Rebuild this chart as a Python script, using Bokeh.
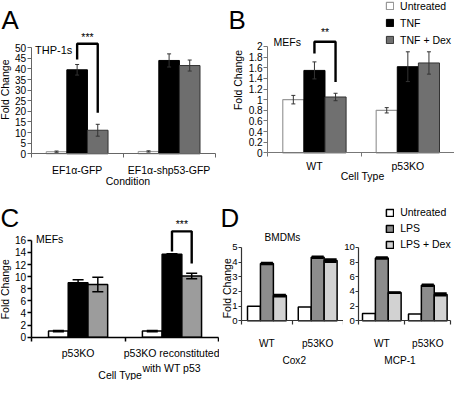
import math
from bokeh.plotting import figure
from bokeh.models import (ColumnDataSource, Range1d, FixedTicker, Whisker, TeeHead,
                          Label, Legend, LegendItem)
from bokeh.layouts import row, column
from bokeh.embed import file_html
from bokeh.resources import INLINE

# ---------------- data ----------------
A_groups = ["EF1α-GFP", "EF1α-shp53-GFP"]
A_untreated = [1.0, 1.1]
A_untreated_err = [0.3, 0.3]
A_tnf = [39.6, 44.0]
A_tnf_err = [2.5, 3.1]
A_dex = [11.1, 41.6]
A_dex_err = [2.8, 2.6]
A_yticks = [0, 5, 10, 15, 20, 25, 30, 35, 40, 45, 50]
A_ylabels = ["0", "5", "10", "15", "20", "25", "30", "35", "40", "45", "50"]
A_bracket = [51.9, 44.4, 19.3]   # top, left end, right end
A_stars = "***"
A_stars_y = 55.0

B_groups = ["WT", "p53KO"]
B_untreated = [1.0, 0.8]
B_untreated_err = [0.08, 0.05]
B_tnf = [1.55, 1.62]
B_tnf_err = [0.16, 0.28]
B_dex = [1.05, 1.69]
B_dex_err = [0.07, 0.21]
B_yticks = [0, 0.2, 0.4, 0.6, 0.8, 1, 1.2, 1.4, 1.6, 1.8, 2]
B_ylabels = ["0", "0.2", "0.4", "0.6", "0.8", "1", "1.2", "1.4", "1.6", "1.8", "2"]
B_bracket = [2.09, 1.87, 1.33]
B_stars = "**"
B_stars_y = 2.27
B_legend = ["Untreated", "TNF", "TNF + Dex"]

C_groups = ["p53KO", "p53KO reconstituted\nwith WT p53"]
C_untreated = [1.0, 1.0]
C_untreated_err = [0.12, 0.12]
C_tnf = [9.0, 13.7]
C_tnf_err = [0.5, 0.08]
C_dex = [8.7, 10.1]
C_dex_err = [1.2, 0.45]
C_yticks = [0, 2, 4, 6, 8, 10, 12, 14, 16]
C_ylabels = ["0", "2", "4", "6", "8", "10", "12", "14", "16"]
C_bracket = [17.5, 14.15, 12.2]
C_stars = "***"
C_stars_y = 18.65

D_groups = ["WT", "p53KO"]
D_cox2_untreated = [1.0, 0.95]
D_cox2_lps = [3.9, 4.33]
D_cox2_lps_err = [0.05, 0.05]
D_cox2_dex = [1.72, 4.1]
D_cox2_dex_err = [0.06, 0.1]
D_mcp1_untreated = [1.0, 0.95]
D_mcp1_lps = [8.55, 4.85]
D_mcp1_lps_err = [0.1, 0.1]
D_mcp1_dex = [3.85, 3.6]
D_mcp1_dex_err = [0.06, 0.15]
D1_yticks = [0, 1, 2, 3, 4, 5]
D1_ylabels = ["0", "1", "2", "3", "4", "5"]
D2_yticks = [0, 2, 4, 6, 8, 10]
D2_ylabels = ["0", "2", "4", "6", "8", "10"]
D_legend = ["Untreated", "LPS", "LPS + Dex"]

# ---------------- layout helpers ----------------
S = 0.958
FONT = "Liberation Sans"


def r(v):
    return int(round(v * S))


def fs(v):
    return f"{v * S:.1f}px"


# figure boxes and axis positions (reference pixels)
GA = dict(x0=0, y0=0, x1=237, y1=200, L=32, R=224, B=160, T=49.3, top_val=50)
GB = dict(x0=237, y0=0, x1=474, y1=200, L=279, R=474, B=159, T=48, top_val=2)
GC = dict(x0=0, y0=200, x1=229, y1=397, L=32, R=228, B=351, T=250, top_val=16)
GD1 = dict(x0=229, y0=200, x1=358, y1=397, L=252, R=358, B=334, T=257.3, top_val=5)
GD2 = dict(x0=358, y0=200, x1=474, y1=397, L=374, R=470, B=334, T=257.3, top_val=10)


def make_fig(g, n):
    W = r(g['x1']) - r(g['x0'])
    H = r(g['y1']) - r(g['y0'])
    Ls = S * (g['L'] - g['x0'])
    Rs = S * (g['R'] - g['x0'])
    Bs = S * (g['B'] - g['y0'])
    Ts = S * (g['T'] - g['y0'])
    kx = n / (Rs - Ls)
    ky = g['top_val'] / (Bs - Ts)
    p = figure(width=W, height=H, output_backend="svg", toolbar_location=None, title=None,
               x_range=Range1d(-Ls * kx, n + (W - Rs) * kx),
               y_range=Range1d(-(H - Bs) * ky, g['top_val'] + Ts * ky),
               min_border=0, min_border_left=0, min_border_right=0,
               min_border_top=0, min_border_bottom=0)
    p.grid.visible = False
    p.outline_line_color = None
    p.background_fill_color = "white"
    p.border_fill_color = "white"
    p._H = H
    return p


def style_axes(p, groups, yticks, ylabels, y_bound, col, lw, xstand, tick_fs=10.5):
    n = len(groups)
    xa = p.xaxis[0]
    xa.fixed_location = 0
    xa.bounds = (0, n)
    xa.ticker = FixedTicker(ticks=[i + 0.5 for i in range(n)], minor_ticks=list(range(n + 1)))
    xa.major_label_overrides = {i + 0.5: gname for i, gname in enumerate(groups)}
    xa.major_tick_out = 0
    xa.major_tick_in = 0
    xa.minor_tick_out = r(4)
    xa.minor_tick_in = 0
    xa.axis_line_color = col
    xa.axis_line_width = lw
    xa.minor_tick_line_color = col
    xa.minor_tick_line_width = lw
    xa.major_label_standoff = xstand
    xa.major_label_text_font = FONT
    xa.major_label_text_font_size = fs(tick_fs + 0.5)
    xa.major_label_text_color = "black"

    ya = p.yaxis[0]
    ya.fixed_location = 0
    ya.ticker = FixedTicker(ticks=yticks)
    ya.major_label_overrides = {t: lab for t, lab in zip(yticks, ylabels)}
    ya.bounds = (0, y_bound)
    ya.major_tick_out = r(4)
    ya.major_tick_in = 0
    ya.minor_tick_out = 0
    ya.minor_tick_in = 0
    ya.axis_line_color = col
    ya.axis_line_width = lw
    ya.major_tick_line_color = col
    ya.major_tick_line_width = lw
    ya.major_label_standoff = 1
    ya.major_label_text_font = FONT
    ya.major_label_text_font_size = fs(tick_fs)
    ya.major_label_text_color = "black"


def bars(p, n, series, bw, wcol, wlw, head):
    rends = []
    for k, (vals, errs, fill, line, lw) in enumerate(series):
        off = (k - 1) * bw
        xs = [i + 0.5 + off for i in range(n)]
        if errs is None:
            errs = [0] * n
        src = ColumnDataSource(dict(x=xs, top=vals,
                                    lo=[v - e for v, e in zip(vals, errs)],
                                    hi=[v + e for v, e in zip(vals, errs)]))
        rr = p.vbar(x="x", top="top", bottom=0, width=bw, source=src,
                    fill_color=fill, line_color=line, line_width=lw)
        if any(e > 0 for e in errs):
            w = Whisker(source=src, base="x", upper="hi", lower="lo", level="annotation",
                        line_color=wcol, line_width=wlw,
                        upper_head=TeeHead(size=head, line_color=wcol, line_width=wlw),
                        lower_head=TeeHead(size=head, line_color=wcol, line_width=wlw))
            p.add_layout(w)
        rends.append(rr)
    return rends


def bracket(p, gi, bw, spec, stars, star_y):
    top, lend, rend = spec
    xl = gi + 0.5
    xr = gi + 0.5 + bw
    p.line(x=[xl, xl, xr, xr], y=[lend, top, top, rend], line_color="black", line_width=2.4)
    p.add_layout(Label(x=(xl + xr) / 2, y=star_y, text=stars, text_align="center",
                       text_baseline="middle", text_font=FONT, text_font_size=fs(11),
                       text_color="black"))


def slabel(p, g, text, X, Y, size, align="left", baseline="middle", angle=0.0):
    p.add_layout(Label(x=S * (X - g['x0']), y=p._H - S * (Y - g['y0']),
                       x_units="screen", y_units="screen",
                       text=text, text_font=FONT, text_font_size=fs(size), text_align=align,
                       text_baseline=baseline, angle=angle, text_color="black"))


def legend(p, g, labels, rends, left_X, row1_Y, pitch, size):
    item_h = 12
    sp = r(pitch) - item_h
    h = 3 * item_h + 2 * sp
    top = S * (row1_Y - g['y0']) - item_h / 2
    vx = S * (left_X - g['x0'])
    vy = p._H - (top + h)
    lg = Legend(items=[LegendItem(label=lab, renderers=[rr]) for lab, rr in zip(labels, rends)],
                location=(vx, vy), orientation="vertical", padding=0, margin=0,
                spacing=sp, glyph_width=r(9), glyph_height=r(9), label_height=item_h,
                label_standoff=r(6), border_line_alpha=0, background_fill_alpha=0,
                label_text_font=FONT, label_text_font_size=fs(size),
                label_text_color="black")
    p.add_layout(lg)


# ---------------- panel A ----------------
pA = make_fig(GA, len(A_groups))
bwA = 0.224
style_axes(pA, A_groups, A_yticks, A_ylabels, 50, "#666666", 1, 6)
bars(pA, len(A_groups), [
    (A_untreated, A_untreated_err, "#f6f6f6", "#9a9a9a", 1),
    (A_tnf, A_tnf_err, "black", "black", 1),
    (A_dex, A_dex_err, "#6e6e6e", "#333333", 1),
], bwA, "#333333", 1, r(4))
bracket(pA, 0, bwA, A_bracket, A_stars, A_stars_y)
slabel(pA, GA, "A", 1, 20, 27, baseline="alphabetic")
slabel(pA, GA, "THP-1s", 36, 52, 11.5)
slabel(pA, GA, "Fold Change", 5, 93, 11, align="center", angle=math.pi / 2)
slabel(pA, GA, "Condition", 133, 188, 11, align="center")

# ---------------- panel B ----------------
pB = make_fig(GB, len(B_groups))
bwB = 0.226
style_axes(pB, B_groups, B_yticks, B_ylabels, 2, "#777777", 1, 3)
rB = bars(pB, len(B_groups), [
    (B_untreated, B_untreated_err, "white", "#999999", 1.2),
    (B_tnf, B_tnf_err, "black", "black", 1),
    (B_dex, B_dex_err, "#707070", "#333333", 1),
], bwB, "#333333", 1, r(4))
bracket(pB, 0, bwB, B_bracket, B_stars, B_stars_y)
legend(pB, GB, B_legend, rB, 402, 6, 18, 11)
slabel(pB, GB, "B", 238, 20, 27, baseline="alphabetic")
slabel(pB, GB, "MEFs", 285, 43, 11)
slabel(pB, GB, "Fold Change", 248, 83, 11, align="center", angle=math.pi / 2)
slabel(pB, GB, "Cell Type", 378, 183, 11, align="center")

# ---------------- panel C ----------------
pC = make_fig(GC, len(C_groups))
bwC = 0.21
style_axes(pC, C_groups, C_yticks, C_ylabels, 16, "black", 1.5, 6)
bars(pC, len(C_groups), [
    (C_untreated, C_untreated_err, "white", "black", 1.5),
    (C_tnf, C_tnf_err, "black", "black", 1.5),
    (C_dex, C_dex_err, "#9c9c9c", "black", 1.5),
], bwC, "black", 1.5, r(12))
bracket(pC, 1, bwC, C_bracket, C_stars, C_stars_y)
slabel(pC, GC, "C", 0, 227, 27, baseline="alphabetic")
slabel(pC, GC, "MEFs", 37, 249, 11)
slabel(pC, GC, "Fold Change", 5, 301, 11, align="center", angle=math.pi / 2)
slabel(pC, GC, "Cell Type", 125, 391, 11, align="center")

# ---------------- panel D ----------------
pD1 = make_fig(GD1, len(D_groups))
bwD1 = 0.255
style_axes(pD1, D_groups, D1_yticks, D1_ylabels, 5, "#333333", 1.2, 13, tick_fs=10)
pD1.yaxis[0].major_tick_out = r(3)
bars(pD1, len(D_groups), [
    (D_cox2_untreated, None, "white", "black", 1.5),
    (D_cox2_lps, D_cox2_lps_err, "#8c8c8c", "black", 1.5),
    (D_cox2_dex, D_cox2_dex_err, "#d2d2d2", "black", 1.5),
], bwD1, "black", 2, r(13))
slabel(pD1, GD1, "D", 230, 227, 27, baseline="alphabetic")
slabel(pD1, GD1, "BMDMs", 276, 247, 10.5)
slabel(pD1, GD1, "Fold Change", 237, 300, 11, align="center", angle=math.pi / 2)
slabel(pD1, GD1, "Cox2", 307, 375, 10.5, align="center")

pD2 = make_fig(GD2, len(D_groups))
bwD2 = 0.28
style_axes(pD2, D_groups, D2_yticks, D2_ylabels, 10, "#333333", 1.2, 13, tick_fs=10)
pD2.yaxis[0].major_tick_out = r(3)
rD = bars(pD2, len(D_groups), [
    (D_mcp1_untreated, None, "white", "black", 1.5),
    (D_mcp1_lps, D_mcp1_lps_err, "#8c8c8c", "black", 1.5),
    (D_mcp1_dex, D_mcp1_dex_err, "#d2d2d2", "black", 1.5),
], bwD2, "black", 2, r(13))
legend(pD2, GD2, D_legend, rD, 402, 221, 17, 11)
slabel(pD2, GD2, "MCP-1", 417, 375, 10.5, align="center")

layout = column(row(pA, pB), row(pC, pD1, pD2))
open("out.html", "w").write(file_html(layout, INLINE))
